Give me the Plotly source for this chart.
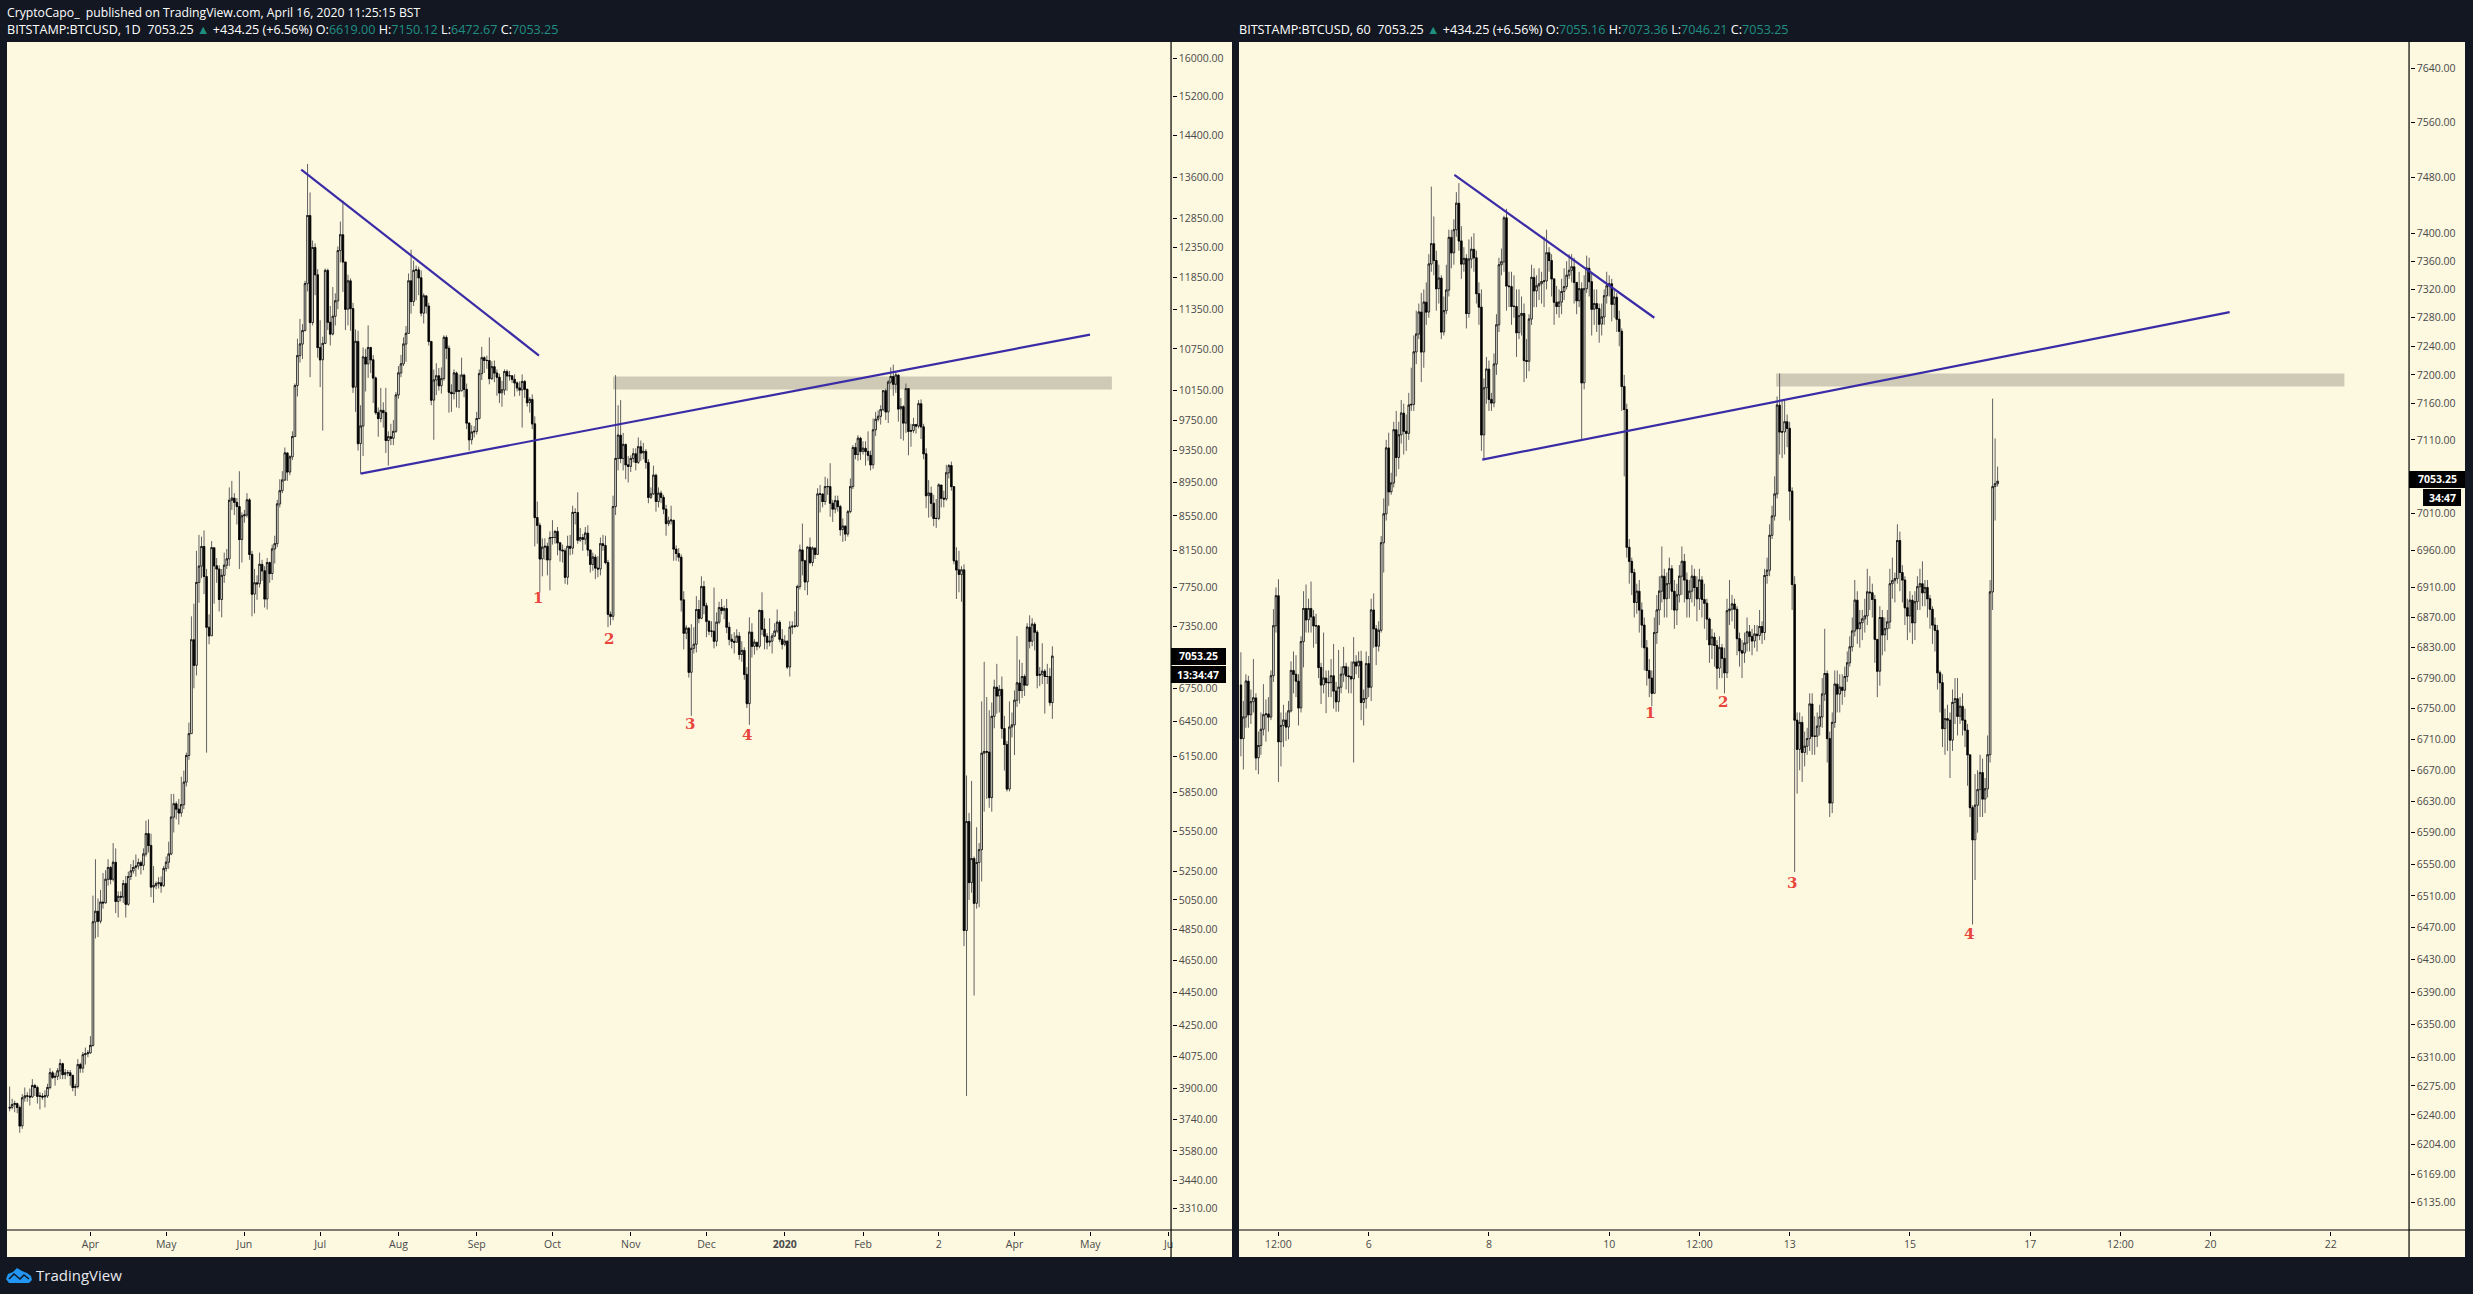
import math
import pandas as pd
import plotly.graph_objects as go

W, H = 2473, 1294

# --- daily chart, BITSTAMP:BTCUSD 1D (first value is Feb 28 2019) ---
open_1d_first = 3795
close_1d = [3800,
    3815,3820,3800,3705,3850,3860,3860,3855,3916,3905,3858,3860,3855,3860,3905,3985,3960,3965,3995,4035,3975,3985,3985,3970,3905,3910,4030,4010,4085,4090,4095,
    4137,4900,4972,4905,5035,5030,5195,5280,5195,5318,5040,5075,5070,5165,5020,5215,5255,5280,5290,5315,5295,5378,5531,5442,5140,5150,5165,5170,5150,5272,
    5318,5378,5657,5762,5720,5690,5755,5935,6156,6343,7214,6966,7804,7980,8198,7868,7340,7254,8185,7985,7950,7624,7880,7990,8060,8734,8760,8710,8660,8277,8550,
    8560,8740,8110,7680,7800,7790,8000,7930,7630,8020,7900,8170,8230,8690,8850,8980,9320,9080,9270,9532,10222,10650,10820,11022,11755,12905,11144,12352,11900,10770,
    10590,10830,11970,11150,10970,11240,11480,12300,12570,12110,11350,11800,11360,10200,10860,9440,9670,10630,10530,10770,10590,10330,9850,9770,9880,9850,9480,9530,9510,9600,10090,
    10400,10530,10820,10980,11800,11470,11970,11980,11850,11290,11560,11400,10860,10020,10300,10360,10220,10320,10920,10760,10130,10110,10400,10140,10150,10370,10170,9710,9490,9590,9600,
    9770,10390,10620,10580,10580,10320,10490,10400,10340,10120,10160,10420,10360,10360,10310,10260,10190,10160,10280,10170,9985,10030,9700,8530,8440,8060,8190,8200,8050,8300,
    8300,8370,8240,8160,8150,7860,8200,8180,8590,8590,8270,8300,8280,8350,8160,8000,8080,7960,7950,8230,8210,8020,7470,7450,8660,9250,9550,9250,9430,9170,9150,
    9250,9310,9200,9400,9320,9340,9200,8770,8810,9040,8720,8820,8770,8630,8460,8490,8500,8170,8120,8080,7620,7280,7330,6900,7130,7170,7520,7430,7760,7560,
    7400,7300,7300,7200,7390,7540,7510,7530,7340,7220,7200,7190,7250,7070,7110,6880,6610,7290,7150,7190,7150,7510,7320,7250,7190,7200,7250,7300,7390,7220,7170,
    7200,6950,7340,7350,7350,7760,8160,8040,7810,8190,8020,8180,8110,8810,8810,8720,8900,8900,8700,8630,8730,8660,8390,8430,8340,8600,8900,9390,9300,9510,9340,
    9380,9340,9290,9170,9620,9760,9800,9890,10150,9860,10270,10350,10240,10370,9900,9930,9710,10180,9600,9610,9690,9670,9970,9660,9310,8790,8820,8700,8520,
    8520,8920,8760,8750,9070,9160,8900,8040,7940,7890,7940,4843,5623,5172,5345,5027,5316,5410,6175,6190,6185,5811,6495,6760,6680,6740,6388,6250,5880,6400,6420,
    6640,6800,6730,6860,6780,7340,7200,7370,7290,6870,6880,6910,6860,6860,6619,7053.25]
high_1d = [3910,
    3845,3835,3825,3810,3870,3905,3880,3900,3950,3925,3915,3880,3875,3890,3925,4010,3995,3985,4010,4060,4040,4005,4000,4000,3975,3925,4060,4040,4100,4125,4110,
    4190,5080,5340,5060,5120,5240,5260,5340,5290,5460,5420,5110,5110,5190,5220,5250,5305,5335,5375,5345,5330,5420,5630,5640,5530,5290,5180,5210,5215,5290,
    5360,5470,5840,5840,5780,5800,5980,6030,6180,6440,7450,7580,8150,8330,8310,8380,7950,7470,8260,8180,8070,7990,7950,8130,8170,8890,8970,8820,8760,9090,8590,
    8620,8820,8760,8150,7950,7880,8130,8050,7980,8070,8030,8220,8320,8740,8990,9090,9390,9330,9290,9600,10250,10900,11200,11120,11800,13850,13320,12470,12420,11990,
    11180,10930,12000,12000,11400,11700,11600,12370,12800,13172,12090,11900,11840,11450,11040,11020,9950,10770,10750,11100,10780,10660,10350,9920,10190,9990,10190,9600,9700,9750,10130,
    10500,10660,10920,11090,11920,12315,12130,12050,12030,11970,11600,11540,11450,10860,10450,10540,10470,10480,10950,10950,10800,10240,10450,10420,10380,10620,10390,10250,9720,9680,9670,
    9860,10450,10780,10640,10650,10920,10570,10580,10450,10390,10290,10450,10450,10430,10370,10380,10280,10280,10380,10300,10180,10060,10100,9800,8720,8470,8290,8290,8240,8370,
    8500,8380,8420,8250,8220,8180,8320,8330,8670,8640,8830,8410,8340,8420,8440,8160,8130,8110,8090,8300,8330,8320,8050,7500,8790,10370,9950,10020,9580,9440,9280,
    9290,9380,9380,9520,9480,9450,9370,9240,8890,9160,9060,8890,8850,8800,8680,8540,8670,8500,8210,8180,8110,7710,7360,7340,7370,7340,7660,7620,7870,7820,
    7590,7410,7400,7750,7490,7600,7630,7560,7630,7390,7270,7290,7320,7290,7200,7140,6950,7440,7380,7220,7180,7520,7700,7430,7280,7430,7280,7380,7520,7410,7320,
    7260,7210,7400,7400,7500,7780,8220,8460,8050,8200,8300,8200,8190,8880,8920,8820,9020,9000,9190,8740,8790,8790,8680,8520,8440,8620,9000,9420,9450,9550,9530,
    9470,9470,9600,9350,9770,9860,9880,9950,10160,10180,10300,10480,10520,10420,10380,10050,9950,10250,10180,9700,9780,9700,10020,10030,9700,9380,8980,8900,8800,
    8750,8940,8900,8850,9170,9180,9210,8900,8190,8150,7980,8000,5990,5690,5945,5360,5580,5460,6630,7000,6670,6550,6620,6830,6980,6780,6860,6500,6280,6630,6530,
    6730,7250,7020,6990,6880,7380,7460,7430,7390,7310,6950,7180,6930,6980,6940,7150.12]
low_1d = [3780,
    3790,3775,3770,3670,3690,3830,3830,3810,3850,3860,3820,3790,3840,3800,3850,3895,3950,3915,3945,3950,3950,3950,3965,3915,3885,3860,3900,3985,3985,4030,4070,
    4090,4130,4790,4800,4890,4990,5025,5150,5160,5180,4960,4930,5040,5030,4930,5010,5190,5235,5215,5265,5230,5260,5360,5390,5070,5030,5125,5130,5100,5140,
    5250,5270,5370,5540,5640,5600,5660,5720,5900,6120,6360,6750,6870,7590,7850,7680,6180,7170,7260,7580,7800,7500,7440,7800,7950,7980,8620,8560,8450,7950,8020,
    8470,8530,8050,7450,7480,7620,7750,7820,7540,7520,7800,7830,8010,8190,8650,8820,8970,8970,9040,9230,9530,10070,10550,10600,11010,11630,10340,11100,11570,10620,
    10200,9610,10820,11030,10800,10950,11100,11350,12100,11620,11030,11100,11020,10120,9860,9350,9060,9280,10140,10330,10400,9980,9820,9530,9720,9650,9320,9160,9420,9420,9580,
    10040,10340,10500,10560,10980,11280,11400,11490,11570,11240,11130,11280,10800,9950,9490,10090,10150,10110,10290,10600,9850,9860,10030,9920,9910,10140,10060,9630,9350,9430,9520,
    9560,9760,10300,10400,10460,10240,10300,10270,10080,9980,9930,10090,10150,10290,10260,10070,10140,10080,9650,10050,9930,9850,9630,8200,8230,7700,7870,8050,7880,7720,
    8220,8230,8100,8030,8020,7790,7780,8100,8110,8450,8230,8250,8150,8220,8090,7910,7930,7840,7860,7880,8150,8000,7340,7360,7410,8560,9100,9190,9100,8990,8950,
    9080,9200,9100,9180,9220,9240,9120,8700,8750,8800,8600,8650,8700,8570,8320,8430,8450,8040,8040,8030,7500,7120,7220,6850,6500,7080,7090,7380,7420,7470,
    7240,7260,7240,7130,7150,7370,7470,7420,7280,7160,7130,7080,7220,7020,7000,6830,6570,6420,7040,7070,7110,7130,7260,7120,7120,7150,7080,7240,7280,7190,7120,
    7150,6930,6860,7270,7330,7340,7730,7880,7720,7670,8000,7980,8060,8110,8590,8650,8680,8800,8540,8480,8580,8600,8320,8250,8260,8310,8580,8870,9240,9220,9230,
    9300,9160,9220,9100,9120,9540,9730,9690,9870,9750,9710,10250,10080,10120,9730,9500,9480,9580,9290,9400,9580,9570,9640,9500,9240,8640,8530,8540,8430,
    8410,8500,8650,8650,8730,9000,8850,8000,7630,7700,7600,4740,3860,5050,5100,4430,4990,5000,5180,5700,5800,5730,5700,6390,6520,6530,6300,6030,5860,5860,6310,
    6160,6580,6610,6660,6680,6770,7130,7150,7110,6750,6770,6790,6520,6790,6590,6472.67]

# --- hourly chart, BITSTAMP:BTCUSD 60 (first value is Apr 3 2020 21:00) ---
open_60_first = 6781
close_60 = [6711,6739,6786,6742,6759,6764,6686,6702,6723,6742,
    6743,6739,6793,6859,6899,6707,6728,6735,6726,6747,
    6800,6795,6786,6751,6838,6882,6867,6882,6871,6859,
    6859,6804,6781,6790,6784,6784,6793,6773,6759,6778,
    6795,6805,6793,6792,6789,6811,6806,6812,6758,6763,
    6809,6778,6880,6855,6832,6853,6970,7009,7099,7039,
    7051,7124,7086,7117,7147,7122,7119,7158,7159,7232,
    7257,7288,7232,7302,7288,7356,7385,7361,7321,7336,
    7260,7290,7319,7394,7372,7405,7443,7389,7356,7364,
    7286,7363,7377,7365,7314,7295,7117,7182,7208,7166,
    7161,7215,7270,7355,7359,7422,7325,7324,7296,7296,
    7259,7283,7286,7220,7219,7278,7337,7318,7325,7328,
    7331,7332,7372,7361,7335,7302,7296,7302,7317,7324,
    7340,7347,7352,7330,7304,7321,7189,7321,7350,7331,
    7292,7300,7293,7271,7281,7311,7325,7328,7299,7309,
    7278,7261,7184,7152,6964,6945,6930,6890,6905,6880,
    6860,6830,6800,6790,6770,6850,6880,6905,6925,6895,
    6915,6935,6905,6880,6900,6925,6945,6920,6895,6905,
    6925,6910,6895,6920,6894,6889,6868,6834,6844,6833,
    6803,6830,6816,6797,6879,6881,6888,6881,6842,6826,
    6823,6836,6851,6845,6839,6848,6846,6858,6850,6926,
    6933,6980,7006,7036,7158,7121,7121,7135,7126,7040,
    6914,6735,6697,6732,6693,6701,6711,6756,6714,6714,
    6727,6739,6769,6796,6711,6628,6732,6782,6769,6778,
    6774,6792,6810,6831,6852,6893,6855,6863,6868,6872,
    6904,6903,6894,6841,6799,6870,6847,6855,6864,6915,
    6919,6922,6973,6930,6920,6883,6872,6893,6863,6891,
    6911,6915,6903,6910,6895,6881,6860,6853,6797,6784,
    6724,6737,6735,6709,6758,6763,6740,6753,6735,6722,
    6690,6622,6581,6625,6645,6667,6633,6646,6690,6904,
    7046,7050,7053.25]
high_60 = [6824,6760,6795,6793,6775,6815,6770,6720,6745,6782,
    6762,6765,6800,6881,6910,6921,6745,6755,6745,6760,
    6812,6825,6820,6795,6845,6905,6914,6895,6918,6880,
    6875,6860,6810,6850,6800,6800,6815,6835,6785,6827,
    6805,6831,6810,6805,6812,6844,6820,6825,6826,6775,
    6825,6819,6895,6902,6860,6865,6979,7030,7110,7120,
    7065,7135,7150,7135,7165,7160,7145,7175,7210,7255,
    7290,7300,7315,7320,7330,7370,7467,7424,7375,7355,
    7340,7310,7355,7405,7405,7420,7459,7472,7410,7380,
    7370,7391,7395,7400,7375,7330,7320,7195,7225,7220,
    7175,7230,7285,7365,7378,7425,7435,7345,7345,7340,
    7320,7320,7310,7300,7250,7285,7355,7350,7340,7350,
    7345,7395,7405,7380,7370,7335,7325,7320,7335,7350,
    7360,7370,7370,7365,7330,7345,7330,7340,7368,7365,
    7345,7320,7320,7300,7300,7320,7345,7340,7335,7320,
    7315,7290,7265,7200,7160,6975,6950,6935,6915,6920,
    6890,6870,6840,6815,6800,6870,6900,6925,6965,6935,
    6930,6950,6940,6920,6915,6940,6965,6955,6930,6920,
    6940,6935,6925,6935,6925,6915,6895,6870,6855,6850,
    6840,6845,6835,6830,6895,6920,6900,6895,6885,6850,
    6840,6850,6870,6860,6855,6860,6860,6880,6865,6935,
    6950,6995,7020,7060,7170,7202,7165,7165,7145,7135,
    7045,6925,6745,6745,6740,6720,6725,6770,6770,6740,
    6745,6755,6790,6855,6800,6720,6745,6800,6800,6795,
    6795,6805,6825,6845,6870,6920,6905,6880,6880,6895,
    6935,6925,6915,6900,6840,6885,6880,6870,6880,6935,
    6950,6930,6995,6985,6940,6925,6895,6905,6900,6905,
    6925,6935,6945,6920,6920,6900,6885,6870,6860,6800,
    6795,6750,6755,6745,6775,6790,6790,6765,6770,6750,
    6730,6690,6625,6665,6670,6690,6685,6660,6715,6920,
    7167,7112,7073.36]
low_60 = [6688,6671,6725,6725,6730,6745,6670,6665,6690,6715,
    6707,6720,6735,6785,6850,6655,6675,6700,6708,6710,
    6745,6770,6765,6728,6745,6804,6850,6850,6850,6830,
    6835,6790,6756,6770,6744,6765,6765,6750,6746,6746,
    6770,6785,6775,6770,6770,6680,6795,6790,6735,6728,
    6750,6765,6760,6830,6807,6825,6850,6930,7000,7020,
    7035,7045,7060,7070,7105,7090,7095,7110,7150,7150,
    7215,7250,7190,7210,7270,7280,7345,7340,7290,7300,
    7250,7255,7285,7310,7350,7355,7395,7375,7335,7345,
    7265,7280,7350,7345,7300,7270,7095,7084,7160,7150,
    7150,7155,7200,7260,7340,7345,7290,7295,7270,7280,
    7225,7250,7255,7190,7195,7205,7270,7295,7295,7305,
    7300,7295,7320,7345,7310,7270,7285,7280,7285,7305,
    7320,7335,7330,7300,7285,7295,7110,7180,7315,7310,
    7255,7270,7260,7245,7255,7270,7300,7310,7275,7280,
    7260,7240,7150,7060,6950,6915,6900,6870,6875,6850,
    6830,6800,6780,6765,6753,6770,6835,6860,6890,6870,
    6870,6895,6880,6855,6860,6890,6900,6890,6870,6870,
    6890,6885,6865,6880,6870,6855,6840,6810,6815,6805,
    6775,6790,6790,6770,6790,6860,6865,6855,6820,6805,
    6790,6810,6825,6825,6820,6830,6825,6840,6835,6840,
    6915,6925,6975,7000,7030,7090,7085,7090,7100,7000,
    6880,6540,6640,6670,6655,6675,6690,6695,6690,6690,
    6700,6715,6725,6760,6680,6610,6615,6725,6745,6745,
    6755,6765,6785,6805,6825,6845,6835,6830,6840,6850,
    6860,6880,6870,6810,6765,6780,6820,6825,6840,6855,
    6895,6890,6915,6905,6890,6860,6840,6850,6835,6840,
    6880,6880,6885,6885,6870,6855,6835,6825,6775,6745,
    6700,6690,6695,6660,6695,6730,6715,6730,6715,6700,
    6650,6610,6474,6530,6590,6610,6610,6615,6635,6680,
    6880,7000,7046.21]

# tick labels
ticks_1d = [16000,15200,14400,13600,12850,12350,11850,11350,10750,10150,9750,9350,8950,8550,8150,7750,7350,
            6750,6450,6150,5850,5550,5250,5050,4850,4650,4450,4250,4075,3900,3740,3580,3440,3310]
ticks_60 = [7640,7560,7480,7400,7360,7320,7280,7240,7200,7160,7110,7010,6960,6910,6870,6830,6790,6750,
            6710,6670,6630,6590,6550,6510,6470,6430,6390,6350,6310,6275,6240,6204,6169,6135]
xticks_1d = ['2019-04-01','2019-05-01','2019-06-01','2019-07-01','2019-08-01','2019-09-01','2019-10-01','2019-11-01',
             '2019-12-01','2020-01-01','2020-02-01','2020-03-02','2020-04-01','2020-05-01','2020-06-01']
xlabels_1d = ['Apr','May','Jun','Jul','Aug','Sep','Oct','Nov','Dec','<b>2020</b>','Feb','2','Apr','May','Ju']
xticks_60 = ['2020-04-04 12:00','2020-04-06','2020-04-08','2020-04-10','2020-04-11 12:00','2020-04-13','2020-04-15',
             '2020-04-17','2020-04-18 12:00','2020-04-20','2020-04-22']
xlabels_60 = ['12:00','6','8','10','12:00','13','15','17','12:00','20','22']

# drawings on the charts
down_1d_x, down_1d_y = ['2019-06-23 12:00','2019-09-25 16:00'], [13745,10652]
up_1d_x, up_1d_y = ['2019-07-17','2020-04-30 22:00'], [9060,10962]
zone_1d_x, zone_1d_y = ['2019-10-25','2020-05-09 14:00'], [10166,10349]
down_60_x, down_60_y = ['2020-04-07 10:12','2020-04-10 18:00'], [7484,7280]
up_60_x, up_60_y = ['2020-04-07 21:20','2020-04-20 07:36'], [7083,7288]
zone_60_x, zone_60_y = ['2020-04-12 18:36','2020-04-22 05:24'], [7184,7202]

DARK = '#131722'
CREAM = '#fdf8e0'
BLUE = '#3a2ca6'
TICK_FONT = dict(family='Open Sans', size=10.5, color='#4a4a4a')
TEAL = '#1f8f82'


def px_x(v):
    return v / W


def px_y(v):
    return 1 - v / H


def add_candles(fig, x, first_open, close, high, low, xref, yref):
    opens = [first_open] + close[:-1]
    # grey wicks go underneath (open=close so no grey box shows), black bodies on top
    fig.add_trace(go.Candlestick(x=x, open=close, high=high, low=low, close=close, xaxis=xref, yaxis=yref,
                                 showlegend=False, hoverinfo='skip',
                                 increasing=dict(line=dict(color='#626262', width=1), fillcolor='rgba(0,0,0,0)'),
                                 decreasing=dict(line=dict(color='#626262', width=1), fillcolor='rgba(0,0,0,0)')))
    body_hi = [max(a, b) for a, b in zip(opens, close)]
    body_lo = [min(a, b) for a, b in zip(opens, close)]
    fig.add_trace(go.Candlestick(x=x, open=opens, high=body_hi, low=body_lo, close=close, xaxis=xref, yaxis=yref,
                                 showlegend=False, hoverinfo='skip',
                                 increasing=dict(line=dict(color='#000000', width=0.8), fillcolor='#fffef4'),
                                 decreasing=dict(line=dict(color='#000000', width=0.8), fillcolor='#000000')))


fig = go.Figure()
dates_1d = pd.date_range('2019-02-28', periods=len(close_1d), freq='D')
dates_60 = pd.date_range('2020-04-03 21:00', periods=len(close_60), freq='h')
add_candles(fig, dates_1d, open_1d_first, close_1d, high_1d, low_1d, 'x', 'y')
add_candles(fig, dates_60, open_60_first, close_60, high_60, low_60, 'x2', 'y2')

for lx, ly, xr, yr in [(down_1d_x, down_1d_y, 'x', 'y'), (up_1d_x, up_1d_y, 'x', 'y'),
                       (down_60_x, down_60_y, 'x2', 'y2'), (up_60_x, up_60_y, 'x2', 'y2')]:
    fig.add_trace(go.Scatter(x=lx, y=ly, mode='lines', xaxis=xr, yaxis=yr, showlegend=False, hoverinfo='skip',
                             line=dict(color=BLUE, width=2.2)))

shapes = []


def paper_rect(x0, y0, x1, y1, color, layer='below'):
    shapes.append(dict(type='rect', xref='paper', yref='paper', x0=px_x(x0), x1=px_x(x1), y0=px_y(y0), y1=px_y(y1),
                       fillcolor=color, line=dict(width=0), layer=layer))


def paper_line(x0, y0, x1, y1, color='#000000', width=1.2):
    shapes.append(dict(type='line', xref='paper', yref='paper', x0=px_x(x0), x1=px_x(x1), y0=px_y(y0), y1=px_y(y1),
                       line=dict(color=color, width=width), layer='above'))


# cream panels
paper_rect(7, 42, 1233, 1257, CREAM)
paper_rect(1240, 42, 2467, 1257, CREAM)
# axis frames
paper_line(1172, 42, 1172, 1257)
paper_line(7, 1230, 1233, 1230)
paper_line(2411, 42, 2411, 1257)
paper_line(1240, 1230, 2467, 1230)
# resistance zones
for zx, zy, xr, yr in [(zone_1d_x, zone_1d_y, 'x', 'y'), (zone_60_x, zone_60_y, 'x2', 'y2')]:
    shapes.append(dict(type='rect', xref=xr, yref=yr, x0=zx[0], x1=zx[1], y0=zy[0], y1=zy[1],
                       fillcolor='#cfcab6', line=dict(width=0), layer='below'))
# last price boxes
paper_rect(1172, 648, 1227, 665, '#000000', 'above')
paper_rect(1172, 666, 1227, 683, '#000000', 'above')
paper_rect(2411, 471, 2467, 488, '#000000', 'above')
paper_rect(2425, 489, 2463, 506, '#000000', 'above')
# TradingView cloud
cloud = [(6,1279),(8,1274),(13,1272),(17,1268),(22,1271),(27,1273),(31,1276),(32,1280),(29,1283),(9,1283)]
shapes.append(dict(type='path', xref='paper', yref='paper', fillcolor='#2196f3', line=dict(width=0), layer='above',
                   path='M ' + ' L '.join(f'{px_x(a):.5f},{px_y(b):.5f}' for a, b in cloud) + ' Z'))
zigzag = [(9,1279),(14,1274),(20,1279),(24,1275),(29,1279)]
shapes.append(dict(type='path', xref='paper', yref='paper', line=dict(color=DARK, width=1.5), layer='above',
                   path='M ' + ' L '.join(f'{px_x(a):.5f},{px_y(b):.5f}' for a, b in zigzag)))

annotations = []


def label(x, y, text, size=11, color='#ffffff', family='Open Sans', anchor='left'):
    annotations.append(dict(xref='paper', yref='paper', x=px_x(x), y=px_y(y), text=text, showarrow=False,
                            xanchor=anchor, yanchor='middle', font=dict(family=family, size=size, color=color)))


def tv(v):
    return f'<span style="color:{TEAL}">{v}</span>'


label(5, 12, 'CryptoCapo_  published on TradingView.com, April 16, 2020 11:25:15 BST', 12.2)
label(5, 29, 'BITSTAMP:BTCUSD, 1D  7053.25 <span style="color:%s">▲</span> +434.25 (+6.56%%) O:%s H:%s L:%s C:%s'
      % (TEAL, tv('6619.00'), tv('7150.12'), tv('6472.67'), tv('7053.25')), 12.6)
label(1238, 29, 'BITSTAMP:BTCUSD, 60  7053.25 <span style="color:%s">▲</span> +434.25 (+6.56%%) O:%s H:%s L:%s C:%s'
      % (TEAL, tv('7055.16'), tv('7073.36'), tv('7046.21'), tv('7053.25')), 12.6)
label(34, 1275, 'TradingView', 15, '#e6e8ee')
label(1199, 656, '<b>7053.25</b>', 10.5, anchor='center')
label(1199, 675, '<b>13:34:47</b>', 10.5, anchor='center')
label(2439, 479, '<b>7053.25</b>', 10.5, anchor='center')
label(2444, 498, '<b>34:47</b>', 10.5, anchor='center')

RED = '#e8453c'
for n, nx, ny in [('1', 538, 598), ('2', 609, 639), ('3', 691, 724), ('4', 748, 735),
                  ('1', 1651, 713), ('2', 1724, 702), ('3', 1793, 883), ('4', 1971, 934)]:
    label(nx, ny, f'<b>{n}</b>', 15, RED, 'DejaVu Serif', 'center')

axis_common = dict(showgrid=False, zeroline=False, showline=False, ticks='outside', tickcolor='#000000', tickwidth=1,
                   tickfont=TICK_FONT, fixedrange=True)

# half pixel offsets keep the 1px wicks sharp
fig.update_layout(
    width=W, height=H, margin=dict(l=0, r=0, t=0, b=0), autosize=False,
    paper_bgcolor=DARK, plot_bgcolor='rgba(0,0,0,0)', showlegend=False, boxmode='overlay', boxgap=0.05,
    shapes=shapes, annotations=annotations,
    xaxis=dict(axis_common, domain=[px_x(8.5), px_x(1172.5)], anchor='y', type='date', ticklen=4,
               range=['2019-02-27 13:12', '2020-06-02 05:00'], tickmode='array', tickvals=xticks_1d, ticktext=xlabels_1d,
               rangeslider=dict(visible=False)),
    yaxis=dict(axis_common, domain=[px_y(1230.5), px_y(42.5)], anchor='x', side='right', type='log', ticklen=4,
               range=[math.log10(3210), math.log10(16360)], tickmode='array', tickvals=ticks_1d,
               ticktext=[f'{t:.2f}' for t in ticks_1d]),
    xaxis2=dict(axis_common, domain=[px_x(1240.5), px_x(2411.5)], anchor='y2', type='date', ticklen=4,
                range=['2020-04-03 20:27', '2020-04-23 07:24'], tickmode='array', tickvals=xticks_60, ticktext=xlabels_60,
                rangeslider=dict(visible=False)),
    yaxis2=dict(axis_common, domain=[px_y(1230.5), px_y(42.5)], anchor='x2', side='right', type='log', ticklen=4,
                range=[math.log10(6102), math.log10(7678)], tickmode='array', tickvals=ticks_60,
                ticktext=[f'{t:.2f}' for t in ticks_60]),
)

# page body has a default margin, drop it so the figure fills the window
fig.write_html("out.html", config={'displayModeBar': False},
               post_script="document.body.style.margin='0';document.body.style.background='#131722';")
